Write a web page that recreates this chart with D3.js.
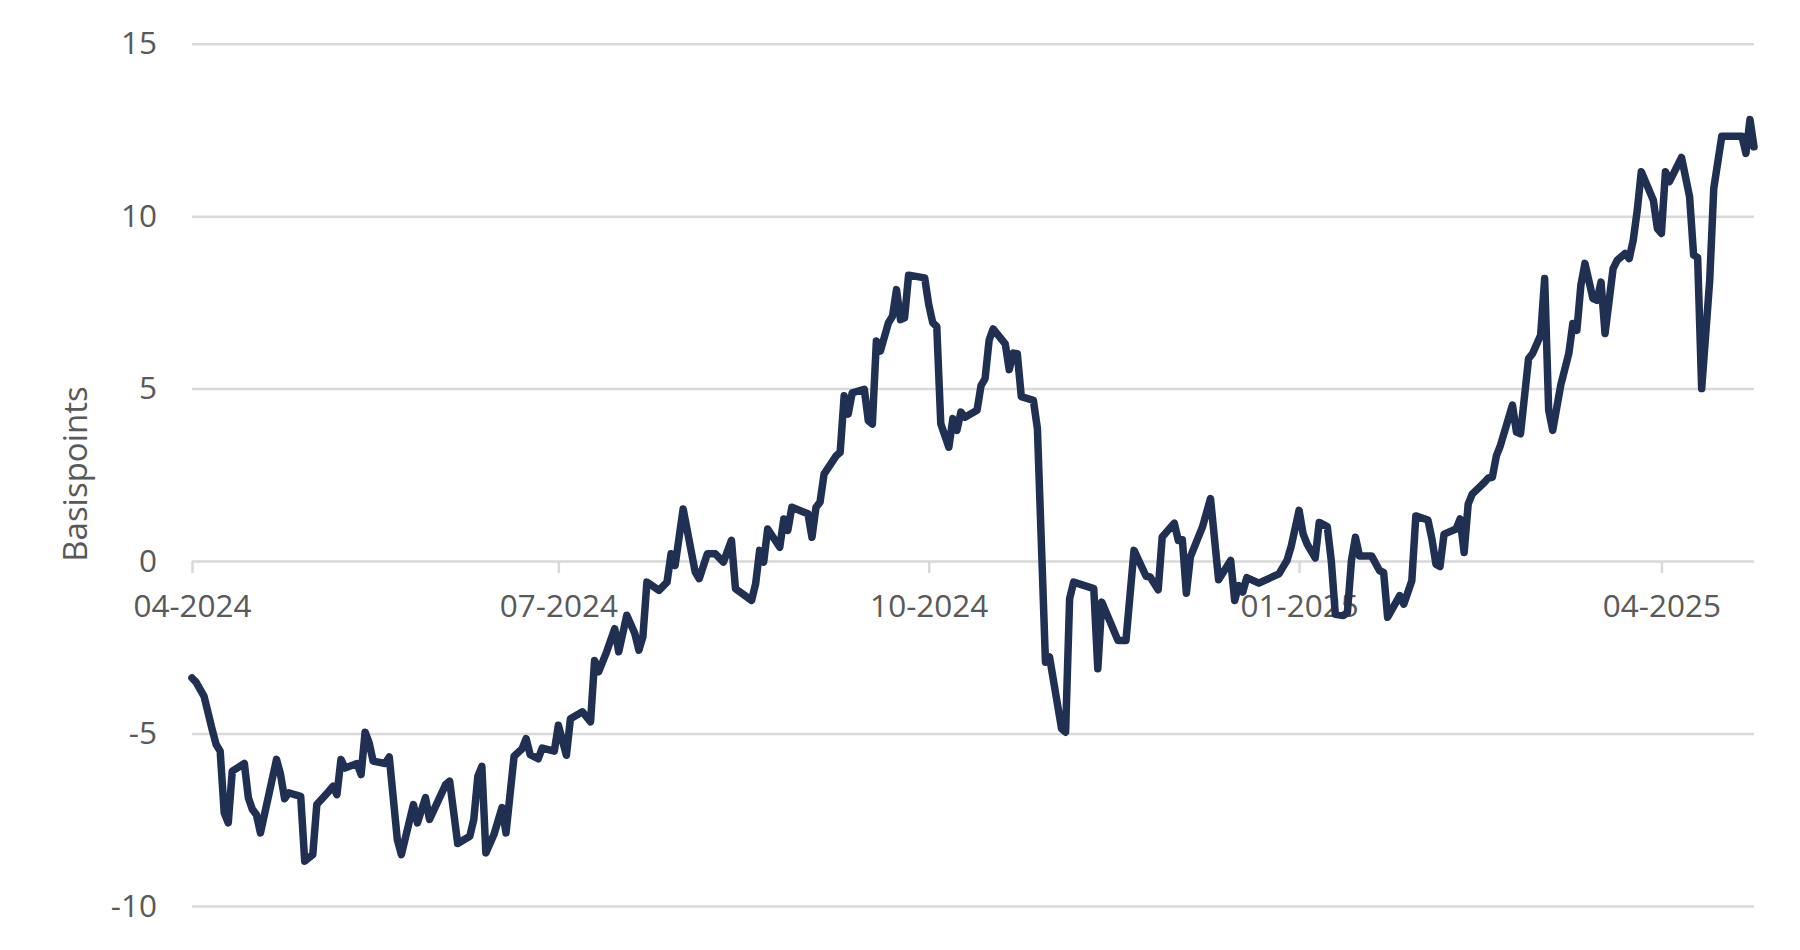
<!DOCTYPE html>
<html>
<head>
<meta charset="utf-8">
<script src="https://cdn.jsdelivr.net/npm/d3@7"></script>
<style>
    body { margin: 0; background: #ffffff; }
    text { font-family: "Open Sans", sans-serif; fill: #595959; }
</style>
</head>
<body>
<div id="graphic"></div>
<script>
// spread in basispoints
const dates = [
    "2024-04-01", "2024-04-02", "2024-04-04", "2024-04-06", "2024-04-07", "2024-04-08", "2024-04-09", "2024-04-10",
    "2024-04-11", "2024-04-14", "2024-04-15", "2024-04-16", "2024-04-17", "2024-04-18", "2024-04-22", "2024-04-23",
    "2024-04-24", "2024-04-25", "2024-04-28", "2024-04-29", "2024-05-01", "2024-05-02", "2024-05-05", "2024-05-06",
    "2024-05-07", "2024-05-08", "2024-05-09", "2024-05-12", "2024-05-13", "2024-05-14", "2024-05-15", "2024-05-16",
    "2024-05-19", "2024-05-20", "2024-05-22", "2024-05-23", "2024-05-26", "2024-05-27", "2024-05-29", "2024-05-30",
    "2024-06-03", "2024-06-04", "2024-06-06", "2024-06-09", "2024-06-10", "2024-06-11", "2024-06-12", "2024-06-13",
    "2024-06-15", "2024-06-17", "2024-06-18", "2024-06-20", "2024-06-22", "2024-06-23", "2024-06-24", "2024-06-26",
    "2024-06-27", "2024-06-30", "2024-07-01", "2024-07-03", "2024-07-04", "2024-07-07", "2024-07-09", "2024-07-10",
    "2024-07-11", "2024-07-13", "2024-07-15", "2024-07-16", "2024-07-18", "2024-07-20", "2024-07-21", "2024-07-22",
    "2024-07-23", "2024-07-26", "2024-07-28", "2024-07-29", "2024-07-30", "2024-08-01", "2024-08-04", "2024-08-05",
    "2024-08-07", "2024-08-09", "2024-08-11", "2024-08-13", "2024-08-14", "2024-08-18", "2024-08-19", "2024-08-20",
    "2024-08-21", "2024-08-22", "2024-08-25", "2024-08-26", "2024-08-27", "2024-08-28", "2024-09-01", "2024-09-02",
    "2024-09-03", "2024-09-04", "2024-09-05", "2024-09-08", "2024-09-09", "2024-09-10", "2024-09-11", "2024-09-12",
    "2024-09-15", "2024-09-16", "2024-09-17", "2024-09-18", "2024-09-19", "2024-09-21", "2024-09-22", "2024-09-23",
    "2024-09-24", "2024-09-25", "2024-09-26", "2024-09-30", "2024-10-01", "2024-10-02", "2024-10-03", "2024-10-04",
    "2024-10-06", "2024-10-07", "2024-10-08", "2024-10-09", "2024-10-10", "2024-10-13", "2024-10-14", "2024-10-15",
    "2024-10-16", "2024-10-17", "2024-10-20", "2024-10-21", "2024-10-22", "2024-10-23", "2024-10-24", "2024-10-27",
    "2024-10-28", "2024-10-30", "2024-10-31", "2024-11-03", "2024-11-04", "2024-11-05", "2024-11-06", "2024-11-11",
    "2024-11-12", "2024-11-13", "2024-11-17", "2024-11-19", "2024-11-21", "2024-11-24", "2024-11-25", "2024-11-27",
    "2024-11-28", "2024-12-01", "2024-12-02", "2024-12-03", "2024-12-04", "2024-12-05", "2024-12-08", "2024-12-10",
    "2024-12-12", "2024-12-15", "2024-12-16", "2024-12-17", "2024-12-18", "2024-12-19", "2024-12-22", "2024-12-27",
    "2024-12-29", "2024-12-30", "2025-01-01", "2025-01-02", "2025-01-03", "2025-01-05", "2025-01-06", "2025-01-08",
    "2025-01-09", "2025-01-10", "2025-01-12", "2025-01-13", "2025-01-14", "2025-01-15", "2025-01-16", "2025-01-19",
    "2025-01-21", "2025-01-22", "2025-01-23", "2025-01-26", "2025-01-27", "2025-01-29", "2025-01-30", "2025-02-02",
    "2025-02-03", "2025-02-04", "2025-02-05", "2025-02-06", "2025-02-09", "2025-02-10", "2025-02-11", "2025-02-12",
    "2025-02-13", "2025-02-16", "2025-02-17", "2025-02-18", "2025-02-19", "2025-02-20", "2025-02-23", "2025-02-24",
    "2025-02-25", "2025-02-27", "2025-02-28", "2025-03-02", "2025-03-03", "2025-03-04", "2025-03-05", "2025-03-07",
    "2025-03-09", "2025-03-10", "2025-03-11", "2025-03-12", "2025-03-13", "2025-03-15", "2025-03-16", "2025-03-17",
    "2025-03-18", "2025-03-20", "2025-03-21", "2025-03-23", "2025-03-24", "2025-03-25", "2025-03-26", "2025-03-27",
    "2025-03-30", "2025-03-31", "2025-04-01", "2025-04-02", "2025-04-03", "2025-04-06", "2025-04-08", "2025-04-09",
    "2025-04-10", "2025-04-11", "2025-04-13", "2025-04-14", "2025-04-16", "2025-04-21", "2025-04-22", "2025-04-23",
    "2025-04-24"
]
const values = [
    -3.39, -3.51, -3.92, -4.88, -5.32, -5.51, -7.30, -7.59,
    -6.09, -5.87, -6.86, -7.20, -7.35, -7.88, -5.75, -6.19,
    -6.89, -6.72, -6.82, -8.70, -8.51, -7.06, -6.67, -6.53,
    -6.77, -5.75, -6.00, -5.87, -6.19, -4.96, -5.27, -5.80,
    -5.87, -5.68, -8.07, -8.51, -7.06, -7.59, -6.86, -7.49,
    -6.48, -6.38, -8.19, -7.98, -7.49, -6.24, -5.95, -8.46,
    -7.93, -7.15, -7.88, -5.66, -5.44, -5.15, -5.61, -5.73,
    -5.42, -5.51, -4.76, -5.63, -4.57, -4.37, -4.66, -2.88,
    -3.21, -2.63, -1.96, -2.63, -1.57, -2.10, -2.58, -2.20,
    -0.61, -0.85, -0.61, 0.21, -0.13, 1.51, -0.32, -0.51,
    0.21, 0.21, -0.03, 0.60, -0.80, -1.14, -0.66, 0.31,
    -0.03, 0.93, 0.40, 1.22, 0.89, 1.56, 1.37, 0.69,
    1.56, 1.71, 2.52, 3.05, 3.15, 4.79, 4.26, 4.88,
    4.98, 4.07, 3.97, 6.38, 6.09, 6.91, 7.10, 7.87,
    7.00, 7.05, 8.29, 8.21, 7.44, 6.91, 6.80, 3.98,
    3.30, 4.13, 3.79, 4.32, 4.17, 4.37, 5.09, 5.29,
    6.40, 6.73, 6.30, 5.55, 6.03, 6.01, 4.77, 4.66,
    3.84, -2.93, -2.78, -4.86, -4.96, -1.09, -0.61, -0.80,
    -3.12, -1.19, -2.30, -2.30, 0.31, -0.44, -0.46, -0.83,
    0.70, 1.10, 0.60, 0.62, -0.93, 0.12, 0.99, 1.81,
    -0.54, 0.02, -1.14, -0.71, -0.90, -0.48, -0.64, -0.37,
    0.02, 0.41, 1.47, 0.79, 0.49, 0.09, 1.12, 1.00,
    0.01, -1.54, -1.58, -1.49, 0.01, 0.69, 0.15, 0.15,
    -0.28, -0.33, -1.63, -1.00, -1.25, -0.57, 1.31, 1.19,
    0.64, -0.09, -0.16, 0.78, 0.93, 1.22, 0.25, 1.65,
    1.94, 2.28, 2.41, 2.43, 3.05, 3.35, 4.52, 3.74,
    3.69, 5.87, 6.02, 6.55, 8.19, 4.37, 3.79, 5.10,
    6.02, 6.89, 6.69, 8.00, 8.63, 7.61, 7.56, 8.09,
    6.60, 8.48, 8.72, 8.92, 8.77, 9.30, 10.17, 11.29,
    10.46, 9.64, 9.50, 11.29, 11.00, 11.70, 10.56, 8.87,
    8.80, 5.00, 8.14, 10.80, 12.32, 12.32, 11.82, 12.80,
    12.01
]
const yTicks = [-10, -5, 0, 5, 10, 15]
const xStart = "2024-04-01"
const xEnd = "2025-04-24"
const axisTitle = "Basispoints"

const chartWidth = 1800
const chartHeight = 950
const margin = {
    top: 43.7,
    right: 46,
    bottom: 44,
    left: 192
}
const width = chartWidth - margin.left - margin.right
const height = chartHeight - margin.top - margin.bottom

const parse = d3.utcParse("%Y-%m-%d")
const data = dates.map(function (d, i) {
    return { date: parse(d), value: values[i] }
})

let x = d3.scaleUtc()
    .domain([parse(xStart), parse(xEnd)])
    .range([0, width])

let y = d3.scaleLinear()
    .domain([-10, 15])
    .range([height, 0])

let svg = d3.select("#graphic").append("svg")
    .attr("width", chartWidth)
    .attr("height", chartHeight)
    .style("display", "block")
    .append("g")
    .attr("transform", "translate(" + margin.left + "," + margin.top + ")")

// horizontal gridlines + y labels (plain hyphen for negatives, like the original)
let yAxis = svg.append("g")
    .call(d3.axisLeft(y)
        .tickValues(yTicks)
        .tickSize(-width)
        .tickPadding(35)
        .tickFormat(function (d) { return String(d) }))
yAxis.select(".domain").remove()
yAxis.selectAll("line")
    .attr("stroke", "#d9d9d9")
    .attr("stroke-width", 2.5)
yAxis.selectAll("text")
    .attr("font-size", 31.5)
    .style("font-family", "'Open Sans', sans-serif")
    .attr("fill", "#595959")

// x axis sits on the zero line
let xAxis = svg.append("g")
    .attr("transform", "translate(0," + y(0) + ")")
    .call(d3.axisBottom(x)
        .ticks(d3.utcMonth.every(3))
        .tickSize(12)
        .tickPadding(22)
        .tickFormat(d3.utcFormat("%m-%Y")))
xAxis.select(".domain").remove()
xAxis.selectAll("line")
    .attr("stroke", "#d9d9d9")
    .attr("stroke-width", 2.5)
xAxis.selectAll("text")
    .attr("font-size", 31.5)
    .style("font-family", "'Open Sans', sans-serif")
    .attr("fill", "#595959")

let line = d3.line()
    .x(function (d) { return x(d.date) })
    .y(function (d) { return y(d.value) })

svg.append("path")
    .datum(data)
    .attr("fill", "none")
    .attr("stroke", "#1f3052")
    .attr("stroke-width", 7.5)
    .attr("stroke-linejoin", "round")
    .attr("stroke-linecap", "round")
    .attr("d", line)

svg.append("text")
    .attr("transform", "translate(" + (87 - margin.left) + "," + (474 - margin.top) + ") rotate(-90)")
    .attr("text-anchor", "middle")
    .attr("font-size", 33)
    .attr("fill", "#595959")
    .text(axisTitle)
</script>
</body>
</html>
